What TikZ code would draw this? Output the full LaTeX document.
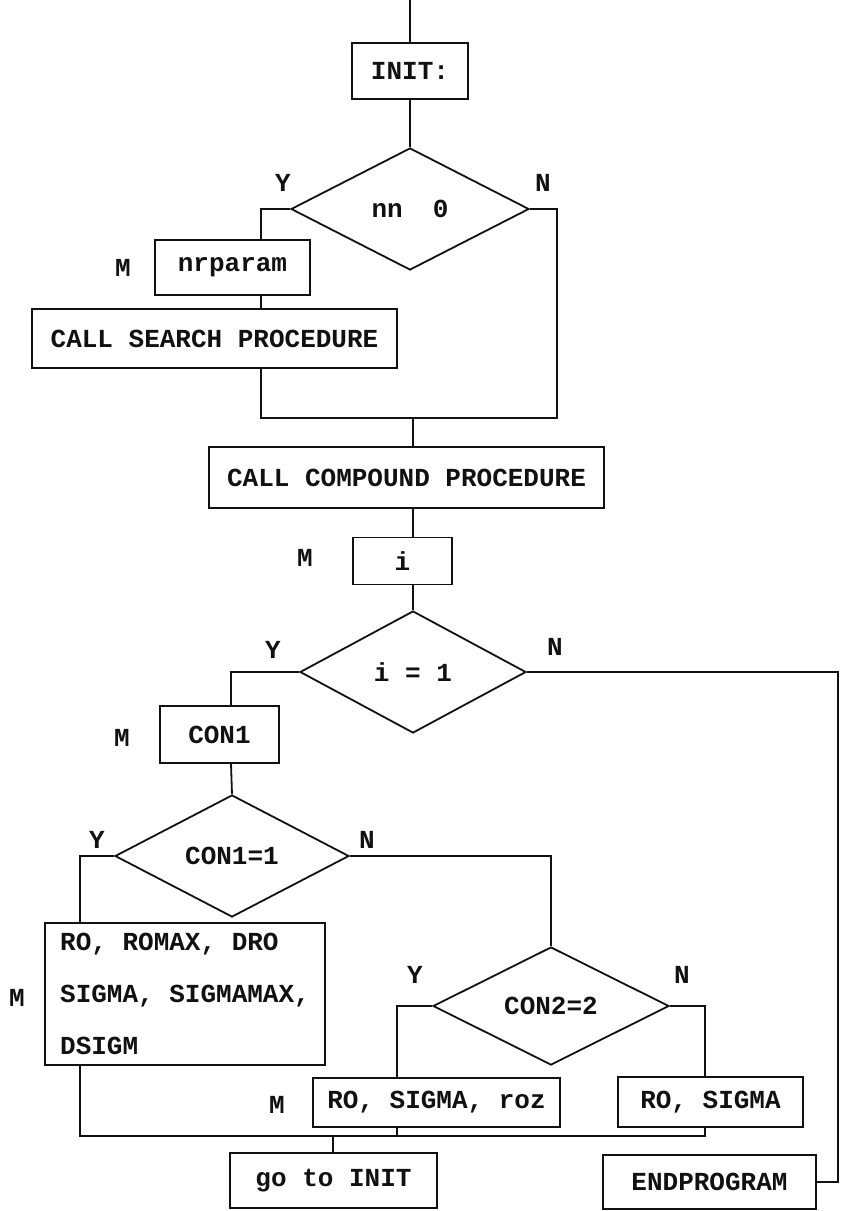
\documentclass[tikz,border=0pt]{standalone}
\usepackage{fontspec}
\setmonofont{Liberation Mono}
\usetikzlibrary{shapes.geometric}
\definecolor{ink}{HTML}{111111}

\begin{document}
\begin{tikzpicture}[
  x=1pt, y=-1pt,
  every node/.style={font=\ttfamily\bfseries\fontsize{26}{30}\selectfont, text=ink},
  box/.style={draw=ink, line width=1.8pt, inner sep=0pt, align=center},
  cond/.style={draw=ink, line width=1.8pt, diamond, inner sep=0pt, align=center},
  tag/.style={inner sep=0pt},
  link/.style={draw=ink, line width=1.8pt}
]
  \useasboundingbox (0,0) rectangle (841,1211);

  % main column
  \node[box, minimum width=116pt, minimum height=56pt] (init) at (410,71) {INIT:};
  \node[cond, minimum width=238pt, minimum height=122pt] (nn) at (410,209) {nn\hspace{30pt}0};
  \node[box, minimum width=155pt, minimum height=55pt] (nrparam) at (232.5,267.5) {nrparam};
  \node[box, minimum width=365pt, minimum height=59pt] (search) at (214.5,338.5) {CALL SEARCH PROCEDURE};
  \node[box, minimum width=395pt, minimum height=61pt] (compound) at (406.5,477.5) {CALL COMPOUND PROCEDURE};
  \node[box, minimum width=99pt, minimum height=47pt] (ibox) at (402.5,561) {i};
  \node[cond, minimum width=226pt, minimum height=122pt] (ione) at (413,672) {i = 1};
  \node[box, minimum width=119pt, minimum height=57pt] (con1) at (219.5,734.5) {CON1};
  \node[cond, minimum width=234pt, minimum height=122pt] (conone) at (232,856) {CON1=1};
  \node[box, minimum width=280pt, minimum height=142pt, align=left,
        font=\ttfamily\bfseries\fontsize{26}{52}\selectfont] (limits) at (185,994)
        {RO, ROMAX, DRO\\SIGMA, SIGMAMAX,\\DSIGM};
  \node[cond, minimum width=236pt, minimum height=118pt] (contwo) at (551,1006) {CON2=2};
  \node[box, minimum width=247pt, minimum height=49pt] (roz) at (436.5,1102.5) {RO, SIGMA, roz};
  \node[box, minimum width=185pt, minimum height=50pt] (rosig) at (710.5,1102) {RO, SIGMA};
  \node[box, minimum width=207pt, minimum height=55pt] (goto) at (333.5,1180.5) {go to INIT};
  \node[box, minimum width=213pt, minimum height=54pt] (endprog) at (709.5,1182) {ENDPROGRAM};

  % Y / N / M marks
  \node[tag] (nnY) at (283,183) {Y};
  \node[tag] (nnN) at (543,183) {N};
  \node[tag] (nrM) at (123,268) {M};
  \node[tag] (iM) at (305,558) {M};
  \node[tag] (ioneY) at (273,650) {Y};
  \node[tag] (ioneN) at (555,647) {N};
  \node[tag] (conM) at (122,738) {M};
  \node[tag] (cononeY) at (97,840) {Y};
  \node[tag] (cononeN) at (367,840) {N};
  \node[tag] (limM) at (17,998) {M};
  \node[tag] (contwoY) at (415,975) {Y};
  \node[tag] (contwoN) at (682,975) {N};
  \node[tag] (rozM) at (277,1105) {M};

  % corners of the connectors
  \coordinate (entry) at (410,0);
  \coordinate (yes1) at (261,209);
  \coordinate (no1) at (557,209);
  \coordinate (join1) at (413,418);
  \coordinate (yes2) at (231,672);
  \coordinate (no2) at (838,672);
  \coordinate (yes3) at (80,856);
  \coordinate (no3) at (551,856);
  \coordinate (yes4) at (397,1006);
  \coordinate (no4) at (705,1006);
  \coordinate (join2) at (333,1136);

  \path[link] (entry) -- (init.north);
  \path[link] (init.south) -- (nn.north);
  \path[link] (nn.west) -- (yes1) -- (yes1 |- nrparam.north);
  \path[link] (yes1 |- nrparam.south) -- (yes1 |- search.north);
  \path[link] (yes1 |- search.south) |- (join1) -| (no1) -- (nn.east);
  \path[link] (join1) -- (join1 |- compound.north);
  \path[link] (join1 |- compound.south) -- (join1 |- ibox.north);
  \path[link] (join1 |- ibox.south) -- (ione.north);
  \path[link] (ione.west) -- (yes2) -- (yes2 |- con1.north);
  \path[link] (yes2 |- con1.south) -- (conone.north);
  \path[link] (ione.east) -- (no2) |- (endprog.east);
  \path[link] (conone.west) -- (yes3) -- (yes3 |- limits.north);
  \path[link] (conone.east) -- (no3) -- (contwo.north);
  \path[link] (contwo.west) -- (yes4) -- (yes4 |- roz.north);
  \path[link] (contwo.east) -- (no4) -- (no4 |- rosig.north);
  \path[link] (yes3 |- limits.south) |- (join2) -| (no4 |- rosig.south);
  \path[link] (yes4 |- roz.south) -- (yes4 |- join2);
  \path[link] (join2) -- (join2 |- goto.north);
\end{tikzpicture}
\end{document}
